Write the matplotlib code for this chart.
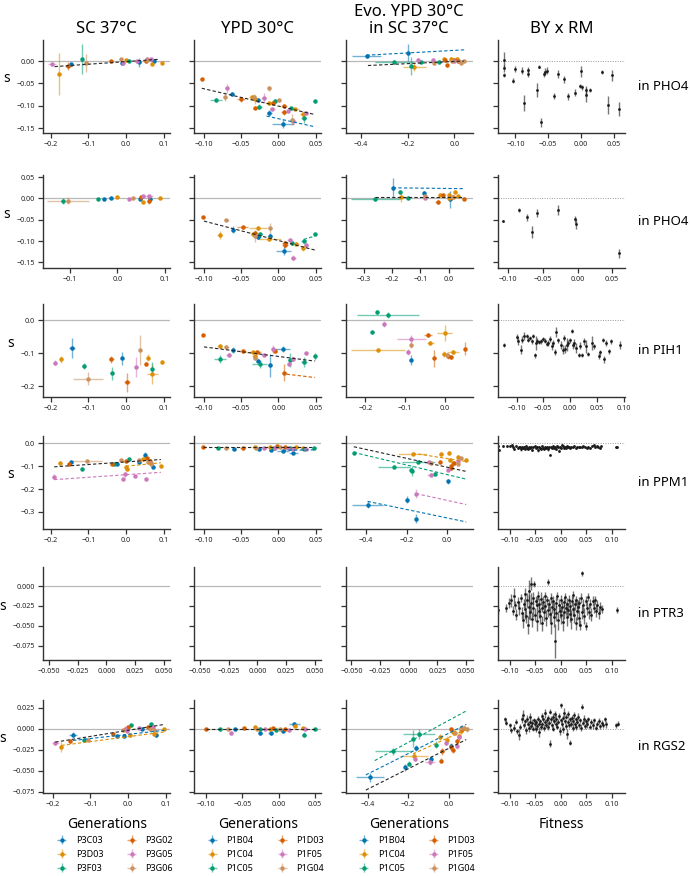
import matplotlib
matplotlib.use('Agg')
import matplotlib.pyplot as plt
from matplotlib.ticker import MultipleLocator
from matplotlib.colors import to_rgba
import numpy as np

plt.rcParams['font.family'] = ['Noto Sans', 'DejaVu Sans']

PAL = ['#0173B2', '#DE8F05', '#029E73', '#D55E00', '#CC78BC', '#CA9161']

col_titles = ['SC 37°C', 'YPD 30°C', 'Evo. YPD 30°C\nin SC 37°C', 'BY x RM']
row_genes = ['PHO4', 'PHO4', 'PIH1', 'PPM1', 'PTR3', 'RGS2']
strains_sc = ['P3C03', 'P3D03', 'P3F03', 'P3G02', 'P3G05', 'P3G06']
strains_ypd = ['P1B04', 'P1C04', 'P1C05', 'P1D03', 'P1F05', 'P1G04']
xlabels = ['Generations', 'Generations', 'Generations', 'Fitness']

# ---- strain panels: (strain index, x, y, xerr, yerr) ----
sc_pho4_a = [(4,-0.197,-0.0075,0.010,0.004),(1,-0.177,-0.029,0.004,0.046),(3,-0.153,-0.011,0.010,0.008),
             (0,-0.146,-0.0075,0.006,0.004),(2,-0.117,0.005,0.003,0.033),(5,-0.106,-0.004,0.008,0.020),
             (3,-0.041,0.000,0.004,0.002),(5,-0.014,0.004,0.003,0.002),(0,-0.011,-0.004,0.003,0.003),
             (4,-0.007,-0.005,0.004,0.003),(1,0.000,0.002,0.003,0.002),(2,0.008,0.000,0.003,0.002),
             (4,0.029,0.000,0.006,0.002),(0,0.036,-0.003,0.003,0.010),(3,0.053,-0.001,0.004,0.003),
             (4,0.055,0.004,0.004,0.002),(5,0.057,0.002,0.003,0.002),(4,0.066,0.004,0.008,0.003),
             (1,0.069,-0.006,0.003,0.003),(0,0.075,-0.001,0.003,0.003),(1,0.096,-0.005,0.003,0.002)]
ypd_pho4_a = [(3,-0.103,-0.041,0.002,0.002),(4,-0.069,-0.061,0.003,0.010),(0,-0.063,-0.074,0.003,0.005),
              (5,-0.072,-0.080,0.003,0.010),(2,-0.084,-0.087,0.008,0.005),(3,-0.050,-0.086,0.005,0.006),
              (1,-0.035,-0.081,0.004,0.004),(1,-0.032,-0.086,0.003,0.010),(5,-0.033,-0.080,0.003,0.006),
              (3,-0.031,-0.104,0.003,0.003),(2,-0.026,-0.102,0.004,0.006),(0,-0.028,-0.087,0.003,0.004),
              (4,-0.020,-0.082,0.003,0.010),(5,-0.012,-0.061,0.002,0.005),(1,-0.012,-0.095,0.006,0.004),
              (0,-0.012,-0.116,0.003,0.006),(4,-0.008,-0.108,0.003,0.004),(2,-0.005,-0.089,0.003,0.004),
              (3,-0.007,-0.093,0.003,0.004),(5,0.001,-0.087,0.003,0.004),(3,0.008,-0.101,0.004,0.005),
              (3,0.008,-0.115,0.004,0.006),(0,0.006,-0.140,0.015,0.010),(2,0.017,-0.106,0.003,0.004),
              (4,0.013,-0.111,0.003,0.004),(1,0.022,-0.107,0.005,0.003),(4,0.019,-0.134,0.004,0.006),
              (5,0.018,-0.131,0.003,0.012),(2,0.034,-0.128,0.003,0.010),(1,0.033,-0.119,0.004,0.008),
              (4,0.037,-0.117,0.003,0.004),(2,0.049,-0.090,0.002,0.003)]
evo_pho4_a = [(0,-0.376,0.011,0.064,0.004),(0,-0.200,0.019,0.004,0.020),(2,-0.258,-0.0015,0.080,0.003),
              (2,-0.186,-0.011,0.005,0.020),(1,-0.172,-0.013,0.050,0.010),(4,-0.155,0.002,0.005,0.004),
              (2,-0.142,-0.002,0.004,0.003),(2,-0.068,-0.0015,0.004,0.003),(4,-0.092,0.0015,0.005,0.003),
              (5,-0.088,-0.005,0.004,0.003),(3,-0.031,-0.010,0.003,0.003),(1,-0.045,0.005,0.004,0.004),
              (3,-0.040,0.002,0.004,0.003),(1,-0.014,0.005,0.003,0.003),(3,0.000,0.002,0.004,0.004),
              (4,0.000,-0.001,0.004,0.003),(1,0.011,0.005,0.004,0.004),(5,0.021,0.001,0.004,0.003),
              (5,0.040,0.000,0.003,0.002),(5,-0.010,0.000,0.003,0.003),(3,0.014,-0.001,0.004,0.003),
              (5,0.030,-0.004,0.003,0.003)]
sc_pho4_b = [(2,-0.116,-0.006,0.003,0.006),(5,-0.105,-0.005,0.045,0.008),(2,-0.041,-0.001,0.003,0.002),
             (0,-0.029,-0.001,0.003,0.002),(0,-0.014,0.002,0.003,0.002),(1,0.000,0.003,0.003,0.002),
             (4,0.025,-0.002,0.003,0.002),(5,0.032,0.001,0.003,0.002),(3,0.049,0.004,0.003,0.003),
             (4,0.055,0.005,0.004,0.003),(4,0.066,0.005,0.010,0.003),(0,0.070,-0.001,0.003,0.003),
             (1,0.055,-0.008,0.003,0.003),(3,0.066,-0.005,0.003,0.008),(1,0.091,0.002,0.003,0.002),
             (0,0.048,-0.001,0.003,0.002)]
ypd_pho4_b = [(3,-0.101,-0.043,0.002,0.002),(5,-0.070,-0.051,0.003,0.003),(1,-0.079,-0.086,0.003,0.010),
              (0,-0.061,-0.073,0.003,0.008),(3,-0.048,-0.068,0.007,0.004),(1,-0.028,-0.069,0.012,0.004),
              (1,-0.034,-0.084,0.003,0.004),(3,-0.031,-0.080,0.003,0.004),(5,-0.031,-0.088,0.003,0.015),
              (0,-0.027,-0.090,0.003,0.005),(2,-0.025,-0.083,0.003,0.004),(1,-0.012,-0.096,0.015,0.004),
              (0,-0.011,-0.087,0.003,0.005),(5,-0.011,-0.069,0.003,0.012),(3,0.009,-0.105,0.004,0.005),
              (3,0.009,-0.110,0.004,0.005),(0,0.007,-0.122,0.010,0.010),(4,0.015,-0.098,0.003,0.004),
              (2,0.018,-0.104,0.003,0.004),(1,0.023,-0.106,0.005,0.003),(4,0.020,-0.139,0.003,0.006),
              (2,0.034,-0.100,0.003,0.005),(1,0.033,-0.117,0.003,0.006),(4,0.037,-0.108,0.003,0.004),
              (2,0.049,-0.083,0.002,0.003)]
evo_pho4_b = [(2,-0.258,-0.002,0.085,0.003),(0,-0.197,0.025,0.004,0.023),(2,-0.170,0.016,0.003,0.003),
              (1,-0.168,0.003,0.010,0.012),(2,-0.144,0.002,0.004,0.003),(0,-0.088,0.012,0.003,0.006),
              (4,-0.085,0.002,0.003,0.003),(5,-0.083,0.005,0.003,0.003),(3,-0.039,-0.008,0.010,0.004),
              (1,-0.030,0.009,0.006,0.004),(3,-0.021,0.008,0.004,0.004),(1,0.002,0.009,0.004,0.005),
              (1,0.000,0.000,0.004,0.006),(0,0.006,-0.002,0.004,0.020),(5,0.011,0.003,0.004,0.003),
              (1,0.023,0.016,0.006,0.004),(3,0.053,-0.001,0.004,0.003),(1,0.032,0.005,0.004,0.003),
              (3,0.014,0.003,0.004,0.003)]
sc_pih1 = [(4,-0.189,-0.128,0.006,0.008),(1,-0.172,-0.118,0.004,0.010),(0,-0.144,-0.083,0.008,0.030),
           (2,-0.113,-0.138,0.004,0.008),(5,-0.102,-0.176,0.040,0.020),(3,-0.039,-0.118,0.006,0.010),
           (2,-0.036,-0.160,0.003,0.020),(0,-0.010,-0.115,0.003,0.020),(3,0.003,-0.188,0.008,0.030),
           (4,0.028,-0.140,0.003,0.030),(5,0.037,-0.090,0.003,0.045),(3,0.052,-0.133,0.004,0.006),
           (1,0.059,-0.113,0.003,0.010),(2,0.070,-0.146,0.003,0.020),(1,0.070,-0.163,0.015,0.030),
           (1,0.096,-0.125,0.003,0.006)]
ypd_pih1 = [(3,-0.101,-0.043,0.002,0.003),(2,-0.079,-0.118,0.008,0.012),(1,-0.079,-0.076,0.003,0.006),
            (5,-0.070,-0.081,0.003,0.006),(4,-0.067,-0.105,0.003,0.005),(0,-0.061,-0.090,0.003,0.010),
            (3,-0.048,-0.093,0.005,0.006),(3,-0.029,-0.096,0.004,0.006),(1,-0.032,-0.108,0.003,0.006),
            (5,-0.031,-0.115,0.003,0.006),(0,-0.027,-0.123,0.003,0.006),(2,-0.025,-0.133,0.010,0.010),
            (1,-0.034,-0.096,0.010,0.005),(4,-0.020,-0.105,0.003,0.005),(0,-0.011,-0.136,0.003,0.035),
            (4,-0.007,-0.086,0.003,0.012),(3,-0.005,-0.093,0.003,0.005),(0,0.006,-0.086,0.010,0.010),
            (3,0.008,-0.158,0.003,0.025),(4,0.014,-0.131,0.003,0.008),(2,0.016,-0.120,0.003,0.020),
            (4,0.019,-0.116,0.003,0.006),(2,0.034,-0.126,0.004,0.015),(4,0.037,-0.100,0.003,0.005),
            (2,0.049,-0.109,0.002,0.010)]
evo_pih1 = [(2,-0.170,0.026,0.004,0.006),(2,-0.143,0.017,0.078,0.010),(4,-0.154,-0.011,0.004,0.008),
            (2,-0.183,-0.036,0.004,0.005),(4,-0.084,-0.055,0.036,0.012),(3,-0.041,-0.044,0.010,0.005),
            (1,0.000,-0.038,0.018,0.025),(1,-0.036,-0.068,0.008,0.005),(5,-0.084,-0.074,0.004,0.010),
            (1,-0.168,-0.090,0.068,0.006),(4,-0.093,-0.096,0.004,0.010),(0,-0.086,-0.121,0.004,0.015),
            (3,-0.026,-0.115,0.004,0.025),(1,-0.002,-0.102,0.005,0.008),(3,0.008,-0.108,0.004,0.008),
            (5,0.005,-0.104,0.004,0.006),(3,0.015,-0.112,0.004,0.006),(1,0.021,-0.095,0.015,0.006),
            (3,0.052,-0.085,0.003,0.020)]
sc_ppm1 = [(1,-0.176,-0.086,0.004,0.006),(3,-0.152,-0.090,0.006,0.006),(0,-0.145,-0.081,0.005,0.008),
           (5,-0.104,-0.076,0.040,0.006),(2,-0.116,-0.111,0.004,0.006),(3,-0.036,-0.089,0.004,0.005),
           (2,-0.031,-0.090,0.004,0.005),(0,-0.023,-0.090,0.004,0.005),(5,-0.014,-0.074,0.004,0.005),
           (2,0.007,-0.069,0.004,0.005),(3,0.001,-0.079,0.004,0.006),(1,0.001,-0.103,0.004,0.006),
           (1,0.003,-0.114,0.004,0.006),(5,0.034,-0.071,0.004,0.005),(0,0.036,-0.081,0.004,0.005),
           (0,0.051,-0.050,0.003,0.012),(1,0.045,-0.069,0.006,0.005),(5,0.058,-0.081,0.004,0.005),
           (3,0.055,-0.066,0.003,0.005),(4,0.067,-0.086,0.004,0.005),(0,0.073,-0.103,0.004,0.006),
           (1,0.093,-0.100,0.003,0.005),(1,0.063,-0.078,0.006,0.005),(5,0.066,-0.090,0.004,0.005),
           (4,-0.191,-0.146,0.006,0.010),(4,-0.008,-0.154,0.006,0.006),(4,-0.003,-0.136,0.003,0.010),
           (4,0.024,-0.143,0.003,0.006),(4,0.054,-0.157,0.003,0.005)]
ypd_ppm1 = [(3,-0.101,-0.017,0.002,0.002),(2,-0.081,-0.021,0.003,0.002),(5,-0.070,-0.019,0.003,0.002),
            (0,-0.060,-0.026,0.003,0.003),(3,-0.048,-0.020,0.003,0.002),(1,-0.032,-0.016,0.003,0.002),
            (5,-0.030,-0.019,0.003,0.002),(0,-0.026,-0.024,0.003,0.003),(4,-0.019,-0.019,0.003,0.002),
            (1,-0.011,-0.016,0.003,0.002),(0,-0.010,-0.029,0.003,0.003),(2,-0.006,-0.020,0.003,0.002),
            (4,-0.004,-0.019,0.003,0.002),(3,-0.002,-0.013,0.003,0.003),(5,0.002,-0.016,0.003,0.002),
            (0,0.006,-0.034,0.008,0.003),(3,0.009,-0.014,0.003,0.002),(4,0.013,-0.021,0.003,0.002),
            (2,0.016,-0.019,0.003,0.002),(0,0.020,-0.043,0.006,0.003),(1,0.023,-0.018,0.005,0.002),
            (4,0.019,-0.024,0.003,0.002),(2,0.034,-0.023,0.003,0.002),(1,0.033,-0.019,0.003,0.002),
            (4,0.037,-0.024,0.003,0.002),(2,0.048,-0.021,0.002,0.002)]
evo_ppm1 = [(2,-0.461,-0.041,0.004,0.006),(2,-0.263,-0.103,0.080,0.006),(2,-0.178,-0.116,0.004,0.008),
            (2,-0.171,-0.121,0.004,0.020),(2,-0.142,-0.080,0.080,0.006),(5,-0.082,-0.087,0.004,0.006),
            (4,-0.082,-0.137,0.015,0.006),(2,-0.059,-0.133,0.004,0.006),(1,-0.170,-0.046,0.070,0.006),
            (1,-0.030,-0.046,0.008,0.010),(3,-0.033,-0.080,0.004,0.006),(1,0.007,-0.043,0.004,0.010),
            (1,0.012,-0.072,0.006,0.006),(5,0.053,-0.090,0.004,0.006),(1,0.094,-0.072,0.004,0.006),
            (4,0.053,-0.077,0.004,0.006),(3,0.036,-0.086,0.004,0.006),(4,-0.087,-0.083,0.004,0.006),
            (3,0.017,-0.100,0.004,0.006),(1,0.028,-0.087,0.004,0.006),(4,0.003,-0.116,0.004,0.006),
            (0,0.006,-0.167,0.004,0.012),(0,-0.392,-0.268,0.078,0.015),(0,-0.199,-0.246,0.004,0.015),
            (4,-0.153,-0.220,0.004,0.020),(0,-0.153,-0.330,0.004,0.020),(1,0.053,-0.058,0.004,0.006),
            (3,0.020,-0.110,0.004,0.006),(5,0.070,-0.065,0.004,0.006)]
sc_rgs2 = [(4,-0.193,-0.017,0.010,0.002),(1,-0.177,-0.022,0.004,0.006),(3,-0.153,-0.015,0.005,0.002),
           (0,-0.146,-0.007,0.010,0.003),(2,-0.117,-0.013,0.005,0.002),(5,-0.106,-0.013,0.005,0.002),
           (3,-0.041,-0.006,0.004,0.002),(0,-0.029,-0.009,0.004,0.002),(0,-0.011,-0.009,0.004,0.002),
           (4,-0.007,0.000,0.004,0.003),(5,-0.014,-0.002,0.004,0.002),(3,0.000,0.002,0.004,0.002),
           (2,0.008,0.004,0.004,0.002),(1,0.004,-0.008,0.004,0.002),(4,-0.003,-0.003,0.004,0.002),
           (4,0.029,0.001,0.004,0.002),(0,0.036,0.000,0.004,0.002),(3,0.053,0.002,0.004,0.002),
           (2,0.060,0.005,0.004,0.002),(5,0.057,0.000,0.004,0.002),(1,0.069,-0.006,0.004,0.002),
           (0,0.075,-0.008,0.004,0.002),(5,0.069,-0.002,0.004,0.002),(4,0.066,0.002,0.004,0.002),
           (1,0.096,-0.001,0.003,0.002)]
ypd_rgs2 = [(3,-0.101,0.000,0.002,0.001),(2,-0.081,-0.001,0.003,0.001),(5,-0.070,0.000,0.003,0.001),
            (4,-0.066,-0.005,0.003,0.002),(0,-0.060,-0.001,0.003,0.001),(3,-0.048,0.001,0.003,0.001),
            (1,-0.033,0.002,0.003,0.001),(5,-0.030,0.000,0.003,0.001),(0,-0.026,-0.005,0.003,0.002),
            (2,-0.025,0.000,0.003,0.001),(4,-0.019,0.000,0.003,0.001),(1,-0.012,-0.001,0.003,0.001),
            (0,-0.011,-0.005,0.003,0.002),(3,-0.007,0.001,0.003,0.001),(2,-0.004,-0.002,0.003,0.001),
            (5,0.002,-0.001,0.003,0.001),(3,0.009,0.000,0.003,0.001),(0,0.006,-0.003,0.003,0.001),
            (4,0.014,-0.002,0.003,0.001),(1,0.023,0.003,0.003,0.001),(0,0.022,0.005,0.008,0.003),
            (2,0.035,-0.007,0.003,0.003),(1,0.034,0.001,0.003,0.001),(4,0.037,-0.001,0.003,0.001),
            (2,0.050,-0.001,0.002,0.001)]
evo_rgs2 = [(2,-0.273,-0.027,0.090,0.004),(2,-0.177,-0.012,0.006,0.010),(2,-0.148,-0.006,0.080,0.006),
            (0,-0.161,-0.023,0.006,0.004),(1,-0.172,-0.032,0.070,0.004),(2,-0.061,-0.019,0.006,0.004),
            (3,0.012,-0.001,0.006,0.003),(5,0.060,0.001,0.006,0.003),(5,0.093,-0.001,0.006,0.003),
            (1,-0.007,-0.013,0.006,0.004),(1,0.023,-0.004,0.006,0.004),(1,0.054,-0.009,0.006,0.004),
            (3,0.013,-0.022,0.006,0.004),(3,-0.030,-0.027,0.006,0.004),(4,-0.010,-0.017,0.006,0.003),
            (4,0.043,-0.021,0.006,0.003),(3,0.020,-0.026,0.006,0.003),(0,0.010,-0.021,0.004,0.004),
            (4,-0.092,-0.040,0.025,0.003),(3,-0.038,-0.038,0.006,0.003),(4,-0.165,-0.036,0.006,0.003),
            (0,-0.089,-0.036,0.006,0.004),(0,-0.216,-0.046,0.006,0.004),(0,-0.390,-0.058,0.070,0.005),
            (2,-0.198,-0.042,0.006,0.003),(1,-0.040,-0.010,0.006,0.004),(5,0.030,-0.005,0.006,0.003),
            (5,0.075,0.001,0.006,0.003),(1,0.060,-0.003,0.006,0.003),(3,0.040,-0.015,0.006,0.003),
            (4,0.050,-0.010,0.006,0.003),(3,0.065,0.000,0.006,0.003)]
empty_panel = []

# ---- regression lines: (strain index or -1 for all, x start, x end, slope, intercept) ----
fit_sc_pho4_a = [(-1,-0.190,0.090,0.059,-0.0013)]
fit_ypd_pho4_a = [(-1,-0.103,0.047,-0.387,-0.1008),(0,-0.016,0.049,-0.369,-0.129)]
fit_evo_pho4_a = [(0,-0.376,0.043,0.0286,0.0238),(-1,-0.370,0.040,0.0244,-0.001)]
fit_ypd_pho4_b = [(-1,-0.100,0.049,-0.456,-0.0986),(2,0.034,0.049,0.53,-0.114)]
fit_evo_pho4_b = [(0,-0.197,0.053,-0.008,0.0234),(-1,-0.258,0.053,0.0,0.004)]
fit_ypd_pih1 = [(-1,-0.100,0.049,-0.289,-0.109),(3,0.011,0.049,-0.263,-0.160)]
fit_sc_ppm1 = [(-1,-0.191,0.093,0.113,-0.0814),(4,-0.191,0.093,0.113,-0.1374),(1,0.000,0.093,0.16,-0.100)]
fit_ypd_ppm1 = [(-1,-0.101,0.048,0.0,-0.018),(0,0.006,0.048,0.05,-0.031)]
fit_evo_ppm1 = [(-1,-0.460,0.094,-0.195,-0.1047),(2,-0.460,0.094,-0.211,-0.137),(1,-0.170,0.094,-0.140,-0.0668),
                (4,-0.153,0.094,-0.194,-0.2497),(0,-0.392,0.094,-0.185,-0.3266)]
fit_sc_rgs2 = [(-1,-0.193,0.096,0.0727,-0.002),(1,-0.177,0.096,0.0586,-0.0096),(0,-0.146,0.096,0.0496,-0.0068)]
fit_ypd_rgs2 = [(-1,-0.101,0.050,0.0,-0.001)]
fit_evo_rgs2 = [(2,-0.366,0.088,0.130,0.0096),(0,-0.410,0.088,0.1205,-0.0056),(1,-0.176,0.088,0.110,-0.0107),
                (-1,-0.410,0.088,0.1205,-0.0236)]

# ---- BY x RM panels: (fitness, s, s error) ----
byrm_pho4_a = [(-0.118,-0.031,0.004),(-0.118,-0.016,0.008),(-0.117,0.002,0.018),(-0.103,-0.044,0.005),
               (-0.100,-0.018,0.006),(-0.090,-0.022,0.008),(-0.087,-0.093,0.018),(-0.081,-0.020,0.006),
               (-0.081,-0.028,0.008),(-0.067,-0.065,0.015),(-0.064,-0.013,0.003),(-0.061,-0.137,0.010),
               (-0.057,-0.029,0.006),(-0.055,-0.024,0.008),(-0.052,-0.022,0.008),(-0.042,-0.078,0.006),
               (-0.036,-0.029,0.010),(-0.026,-0.041,0.008),(-0.020,-0.079,0.008),(-0.009,-0.071,0.008),
               (-0.001,-0.023,0.012),(-0.002,-0.056,0.004),(0.001,-0.059,0.006),(0.007,-0.076,0.015),
               (0.008,-0.065,0.010),(0.013,-0.065,0.005),(0.031,-0.025,0.005),(0.041,-0.099,0.020),
               (0.047,-0.032,0.012),(0.058,-0.107,0.015)]
byrm_pho4_b = [(-0.107,-0.053,0.003),(-0.085,-0.027,0.005),(-0.073,-0.044,0.008),(-0.066,-0.078,0.014),
               (-0.058,-0.034,0.010),(-0.028,-0.027,0.012),(-0.003,-0.049,0.008),(-0.002,-0.059,0.012),
               (0.060,-0.129,0.010)]
byrm_pih1 = [(-0.123,-0.073,0.006),(-0.100,-0.050,0.010),(-0.097,-0.063,0.012),(-0.092,-0.088,0.015),
             (-0.089,-0.058,0.010),(-0.086,-0.048,0.012),(-0.081,-0.048,0.006),(-0.078,-0.058,0.008),
             (-0.075,-0.053,0.006),(-0.072,-0.063,0.008),(-0.069,-0.048,0.006),(-0.066,-0.106,0.008),
             (-0.064,-0.068,0.020),(-0.061,-0.061,0.008),(-0.058,-0.066,0.006),(-0.055,-0.063,0.008),
             (-0.051,-0.057,0.006),(-0.047,-0.061,0.008),(-0.044,-0.070,0.006),(-0.042,-0.068,0.010),
             (-0.037,-0.056,0.008),(-0.034,-0.078,0.012),(-0.031,-0.068,0.010),(-0.028,-0.096,0.010),
             (-0.026,-0.036,0.015),(-0.022,-0.060,0.008),(-0.017,-0.073,0.012),(-0.014,-0.088,0.015),
             (-0.012,-0.053,0.010),(-0.009,-0.086,0.012),(-0.006,-0.073,0.020),(-0.003,-0.068,0.010),
             (0.000,-0.060,0.008),(0.003,-0.033,0.006),(0.006,-0.075,0.010),(0.008,-0.068,0.012),
             (0.011,-0.083,0.015),(0.016,-0.106,0.006),(0.018,-0.076,0.010),(0.023,-0.106,0.006),
             (0.025,-0.063,0.010),(0.029,-0.078,0.020),(0.034,-0.103,0.006),(0.041,-0.068,0.020),
             (0.044,-0.078,0.008),(0.053,-0.108,0.010),(0.056,-0.096,0.008),(0.061,-0.060,0.006),
             (0.063,-0.118,0.010),(0.067,-0.068,0.008),(0.072,-0.093,0.008),(0.077,-0.063,0.008),
             (0.094,-0.073,0.012)]
byrm_ppm1 = [(-0.122,-0.010,0.003),(-0.121,-0.029,0.004),(-0.113,-0.012,0.003),(-0.105,-0.011,0.003),
             (-0.099,-0.013,0.004),(-0.095,-0.006,0.004),(-0.093,-0.016,0.005),(-0.091,-0.024,0.005),
             (-0.087,-0.012,0.003),(-0.084,-0.021,0.004),(-0.081,-0.015,0.004),(-0.079,-0.018,0.004),
             (-0.077,-0.026,0.006),(-0.075,-0.014,0.003),(-0.073,-0.020,0.005),(-0.071,-0.017,0.004),
             (-0.069,-0.023,0.004),(-0.067,-0.011,0.003),(-0.065,-0.019,0.004),(-0.063,-0.025,0.005),
             (-0.061,-0.016,0.004),(-0.059,-0.021,0.003),(-0.057,-0.014,0.004),(-0.055,-0.028,0.006),
             (-0.053,-0.018,0.004),(-0.051,-0.013,0.003),(-0.049,-0.022,0.004),(-0.047,-0.017,0.004),
             (-0.045,-0.031,0.005),(-0.043,-0.015,0.003),(-0.041,-0.020,0.004),(-0.039,-0.026,0.005),
             (-0.037,-0.012,0.003),(-0.035,-0.019,0.004),(-0.033,-0.023,0.004),(-0.031,-0.016,0.004),
             (-0.029,-0.021,0.005),(-0.027,-0.014,0.003),(-0.025,-0.027,0.006),(-0.023,-0.018,0.004),
             (-0.021,-0.049,0.004),(-0.019,-0.015,0.004),(-0.017,-0.022,0.005),(-0.015,-0.013,0.003),
             (-0.013,-0.020,0.004),(-0.011,-0.017,0.004),(-0.009,-0.024,0.005),(-0.007,-0.011,0.003),
             (-0.005,-0.018,0.004),(-0.003,-0.033,0.006),(-0.001,-0.015,0.004),(0.001,-0.020,0.004),
             (0.003,-0.008,0.005),(0.005,-0.013,0.004),(0.007,-0.019,0.004),(0.009,-0.016,0.003),
             (0.011,-0.022,0.004),(0.013,-0.012,0.003),(0.015,-0.018,0.004),(0.017,-0.015,0.004),
             (0.019,-0.021,0.005),(0.021,-0.014,0.003),(0.024,-0.017,0.004),(0.027,-0.013,0.003),
             (0.030,-0.019,0.004),(0.033,-0.015,0.004),(0.036,-0.017,0.004),(0.039,-0.014,0.003),
             (0.042,-0.018,0.004),(0.045,-0.013,0.003),(0.048,-0.016,0.004),(0.051,-0.019,0.004),
             (0.054,-0.015,0.003),(0.057,-0.020,0.004),(0.061,-0.012,0.003),(0.065,-0.009,0.003),
             (0.068,-0.015,0.004),(0.071,-0.011,0.003),(0.074,-0.017,0.004),(0.077,-0.022,0.004),
             (0.080,-0.013,0.003),(0.108,-0.014,0.003),(0.111,-0.017,0.003)]
byrm_ptr3 = [(-0.124,-0.017,0.004),(-0.123,-0.030,0.005),(-0.106,-0.027,0.005),(-0.102,-0.021,0.006),
             (-0.097,-0.018,0.008),(-0.094,-0.031,0.006),(-0.091,-0.012,0.010),(-0.089,-0.024,0.005),
             (-0.087,-0.036,0.007),(-0.084,-0.020,0.006),(-0.081,-0.028,0.009),(-0.078,-0.015,0.005),
             (-0.076,-0.034,0.008),(-0.074,-0.043,0.010),(-0.072,-0.022,0.006),(-0.070,-0.010,0.007),
             (-0.069,-0.029,0.012),(-0.067,-0.038,0.008),(-0.065,-0.018,0.009),(-0.064,-0.049,0.011),
             (-0.062,-0.026,0.015),(-0.061,-0.006,0.014),(-0.060,-0.033,0.010),(-0.058,0.003,0.008),
             (-0.057,-0.021,0.012),(-0.056,-0.042,0.009),(-0.054,-0.015,0.007),(-0.053,-0.028,0.011),
             (-0.052,0.003,0.004),(-0.050,-0.036,0.008),(-0.049,-0.019,0.006),(-0.047,-0.024,0.010),
             (-0.046,-0.044,0.012),(-0.045,-0.012,0.006),(-0.043,-0.031,0.009),(-0.042,-0.022,0.007),
             (-0.040,-0.038,0.010),(-0.039,-0.016,0.008),(-0.037,-0.027,0.006),(-0.036,-0.047,0.009),
             (-0.034,-0.020,0.007),(-0.033,-0.033,0.011),(-0.031,-0.013,0.005),(-0.030,-0.025,0.008),
             (-0.028,-0.040,0.010),(-0.027,-0.018,0.006),(-0.025,-0.030,0.009),(-0.024,0.005,0.004),
             (-0.022,-0.023,0.007),(-0.021,-0.035,0.010),(-0.019,-0.015,0.006),(-0.018,-0.046,0.014),
             (-0.016,-0.026,0.008),(-0.015,-0.019,0.006),(-0.013,-0.039,0.012),(-0.012,-0.029,0.009),
             (-0.010,-0.069,0.021),(-0.009,-0.021,0.007),(-0.008,-0.034,0.010),(-0.006,-0.012,0.005),
             (-0.005,-0.043,0.012),(-0.003,-0.024,0.008),(-0.002,-0.031,0.009),(0.000,-0.017,0.006),
             (0.001,-0.037,0.011),(0.003,-0.026,0.007),(0.004,-0.045,0.012),(0.006,-0.020,0.006),
             (0.007,-0.032,0.010),(0.009,-0.014,0.005),(0.010,-0.028,0.008),(0.012,-0.039,0.011),
             (0.013,-0.022,0.007),(0.015,-0.030,0.009),(0.016,-0.017,0.006),(0.018,-0.035,0.010),
             (0.019,-0.025,0.008),(0.021,-0.042,0.012),(0.022,-0.019,0.006),(0.024,-0.029,0.009),
             (0.025,-0.011,0.005),(0.027,-0.036,0.010),(0.028,-0.023,0.007),(0.030,-0.047,0.008),
             (0.031,-0.018,0.006),(0.033,-0.031,0.012),(0.034,-0.026,0.008),(0.036,-0.040,0.010),
             (0.037,-0.021,0.007),(0.039,-0.049,0.006),(0.040,-0.015,0.006),(0.042,-0.033,0.009),
             (0.043,0.016,0.003),(0.045,-0.024,0.008),(0.047,-0.038,0.010),(0.049,-0.019,0.006),
             (0.050,-0.050,0.005),(0.052,-0.028,0.008),(0.054,-0.014,0.005),(0.056,-0.032,0.009),
             (0.058,-0.022,0.006),(0.060,-0.036,0.008),(0.063,-0.019,0.006),(0.066,-0.027,0.007),
             (0.068,-0.017,0.005),(0.070,-0.031,0.008),(0.072,-0.024,0.006),(0.075,-0.034,0.007),
             (0.078,-0.026,0.006),(0.081,-0.029,0.005),(0.111,-0.030,0.004)]
byrm_rgs2 = [(-0.109,0.011,0.003),(-0.107,0.007,0.003),(-0.100,0.004,0.003),(-0.097,-0.002,0.003),
             (-0.092,0.001,0.004),(-0.088,0.008,0.003),(-0.085,-0.003,0.003),(-0.082,-0.007,0.006),
             (-0.079,0.002,0.003),(-0.076,0.011,0.004),(-0.074,0.016,0.006),(-0.072,0.004,0.003),
             (-0.070,0.009,0.003),(-0.068,-0.002,0.004),(-0.066,0.012,0.004),(-0.064,0.006,0.003),
             (-0.062,0.001,0.005),(-0.060,0.008,0.003),(-0.059,0.014,0.004),(-0.057,0.003,0.003),
             (-0.055,0.007,0.004),(-0.054,0.000,0.003),(-0.052,0.010,0.003),(-0.051,0.005,0.005),
             (-0.049,-0.001,0.003),(-0.048,0.008,0.003),(-0.046,0.003,0.004),(-0.045,0.012,0.003),
             (-0.043,0.006,0.003),(-0.042,-0.004,0.006),(-0.040,0.009,0.003),(-0.039,0.002,0.004),
             (-0.037,0.015,0.004),(-0.036,0.005,0.003),(-0.034,0.011,0.003),(-0.033,0.001,0.004),
             (-0.031,0.008,0.003),(-0.030,0.018,0.005),(-0.028,0.004,0.003),(-0.027,0.010,0.004),
             (-0.025,0.013,0.003),(-0.024,0.002,0.004),(-0.022,0.007,0.003),(-0.021,0.020,0.003),
             (-0.020,-0.018,0.004),(-0.018,0.011,0.004),(-0.017,0.004,0.003),(-0.015,0.014,0.005),
             (-0.014,0.000,0.003),(-0.012,0.009,0.004),(-0.011,0.017,0.004),(-0.009,0.005,0.003),
             (-0.008,0.012,0.004),(-0.006,0.002,0.003),(-0.005,0.008,0.003),(-0.003,0.015,0.004),
             (-0.002,-0.003,0.005),(0.000,0.010,0.003),(0.001,0.028,0.003),(0.002,0.006,0.004),
             (0.004,0.013,0.003),(0.005,-0.001,0.004),(0.007,0.019,0.005),(0.008,0.009,0.003),
             (0.010,0.003,0.004),(0.011,0.014,0.003),(0.012,-0.006,0.006),(0.014,0.008,0.003),
             (0.015,0.017,0.004),(0.017,0.004,0.003),(0.018,0.011,0.003),(0.019,-0.017,0.003),
             (0.021,0.006,0.004),(0.022,0.013,0.003),(0.024,0.001,0.004),(0.025,0.009,0.003),
             (0.027,0.016,0.004),(0.028,0.005,0.003),(0.030,0.011,0.003),(0.031,0.002,0.004),
             (0.033,0.008,0.003),(0.034,0.014,0.004),(0.036,0.004,0.003),(0.038,0.010,0.003),
             (0.040,0.001,0.004),(0.042,0.026,0.003),(0.044,0.007,0.003),(0.046,0.012,0.004),
             (0.048,0.003,0.003),(0.050,0.009,0.003),(0.052,0.005,0.004),(0.054,0.011,0.003),
             (0.057,0.002,0.003),(0.060,0.008,0.003),(0.063,0.004,0.004),(0.066,0.010,0.003),
             (0.069,0.001,0.003),(0.072,0.006,0.003),(0.075,0.009,0.004),(0.078,0.003,0.003),
             (0.081,0.007,0.003),(0.084,0.004,0.003),(0.087,0.011,0.003),(0.090,0.005,0.004),
             (0.109,0.004,0.003),(0.112,0.006,0.003)]

# ---- axis ranges and tick steps ----
row_ylims = [(-0.161, 0.047), (-0.163, 0.055), (-0.232, 0.050), (-0.375, 0.032), (-0.093, 0.024), (-0.0765, 0.034)]
row_ysteps = [0.05, 0.05, 0.1, 0.1, 0.025, 0.025]
panel_xlims = [
    [(-0.220, 0.118), (-0.113, 0.0576), (-0.465, 0.078), (-0.126, 0.067)],
    [(-0.157, 0.112), (-0.113, 0.0576), (-0.363, 0.0845), (-0.1145, 0.069)],
    [(-0.220, 0.118), (-0.113, 0.0576), (-0.250, 0.071), (-0.134, 0.103)],
    [(-0.220, 0.118), (-0.113, 0.0576), (-0.500, 0.126), (-0.122, 0.127)],
    [(-0.055, 0.0558), (-0.055, 0.0558), (-0.055, 0.0558), (-0.122, 0.127)],
    [(-0.225, 0.112), (-0.1166, 0.0592), (-0.510, 0.120), (-0.122, 0.127)],
]
panel_xsteps = [
    [0.1, 0.05, 0.2, 0.05], [0.1, 0.05, 0.1, 0.05], [0.1, 0.05, 0.1, 0.05],
    [0.1, 0.05, 0.2, 0.05], [0.025, 0.025, 0.025, 0.05], [0.1, 0.05, 0.2, 0.05],
]

strain_panels = [
    [(sc_pho4_a, []), (ypd_pho4_a, fit_ypd_pho4_a), (evo_pho4_a, fit_evo_pho4_a)],
    [(sc_pho4_b, []), (ypd_pho4_b, fit_ypd_pho4_b), (evo_pho4_b, fit_evo_pho4_b)],
    [(sc_pih1, []), (ypd_pih1, fit_ypd_pih1), (evo_pih1, [])],
    [(sc_ppm1, fit_sc_ppm1), (ypd_ppm1, fit_ypd_ppm1), (evo_ppm1, fit_evo_ppm1)],
    [(empty_panel, []), (empty_panel, []), (empty_panel, [])],
    [(sc_rgs2, fit_sc_rgs2), (ypd_rgs2, fit_ypd_rgs2), (evo_rgs2, fit_evo_rgs2)],
]
strain_panels[0][0] = (sc_pho4_a, fit_sc_pho4_a)
byrm_panels = [byrm_pho4_a, byrm_pho4_b, byrm_pih1, byrm_ppm1, byrm_ptr3, byrm_rgs2]

# ---- figure ----
FW, FH = 690, 876
fig = plt.figure(figsize=(FW / 100, FH / 100), dpi=100)
col_left = [43.3, 194.3, 345.7, 498.3]
row_top = [40, 175, 304, 436, 567, 700]
AW, AH = 127, 93
axes = [[fig.add_axes([l / FW, 1 - (t + AH) / FH, AW / FW, AH / FH]) for l in col_left] for t in row_top]


def style(ax):
    for s in ['top', 'right']:
        ax.spines[s].set_visible(False)
    for s in ['left', 'bottom']:
        ax.spines[s].set_linewidth(1.0)
        ax.spines[s].set_color('0.2')
    ax.tick_params(labelsize=5.2, length=3.5, width=0.9, color='0.2', pad=2.5, labelcolor='0.15')


for r in range(6):
    for c in range(4):
        ax = axes[r][c]
        style(ax)
        if c < 3:
            ax.axhline(0, color='0.72', lw=0.9, zorder=0)
            pts, fits = strain_panels[r][c]
            names = strains_sc if c == 0 else strains_ypd
            for k in range(6):
                sel = [p for p in pts if p[0] == k]
                if not sel:
                    continue
                arr = np.array([p[1:] for p in sel])
                ax.errorbar(arr[:, 0], arr[:, 1], xerr=arr[:, 2], yerr=arr[:, 3], fmt='o',
                            color=PAL[k], ms=3.2, mew=0, elinewidth=1.0,
                            ecolor=to_rgba(PAL[k], 0.55), capsize=0, label=names[k], zorder=2)
            for k, x0, x1, b, a in fits:
                xs = np.array([x0, x1])
                col = '0.15' if k < 0 else PAL[k]
                ax.plot(xs, a + b * xs, ls=(0, (3, 2)), lw=0.8, color=col, zorder=3)
        else:
            ax.axhline(0, color='0.6', lw=0.7, ls=(0, (1, 1.5)), zorder=0)
            arr = np.array(byrm_panels[r])
            ax.errorbar(arr[:, 0], arr[:, 1], yerr=arr[:, 2], fmt='o', color='0.1', ms=2.0, mew=0,
                        elinewidth=1.0, ecolor=(0.1, 0.1, 0.1, 0.6), capsize=0, zorder=2)
        ax.set_xlim(*panel_xlims[r][c])
        ax.set_ylim(*row_ylims[r])
        ax.xaxis.set_major_locator(MultipleLocator(panel_xsteps[r][c]))
        ax.yaxis.set_major_locator(MultipleLocator(row_ysteps[r]))
        if c > 0:
            ax.tick_params(labelleft=False)
        else:
            ax.set_ylabel('s', rotation=0, fontsize=10, labelpad=7)
    axes[r][3].text(1.1, 0.5, 'in ' + row_genes[r], transform=axes[r][3].transAxes,
                    fontsize=9.5, va='center', ha='left')

for c in range(4):
    axes[0][c].set_title(col_titles[c], fontsize=12, pad=5, linespacing=1.1)
    axes[5][c].set_xlabel(xlabels[c], fontsize=10, labelpad=6)

leg_x = [56.7, 207.5, 359.0]
for c in range(3):
    h, l = axes[5][c].get_legend_handles_labels()
    axes[5][c].legend(h, l, ncol=2, loc='upper left', bbox_to_anchor=(leg_x[c] / FW, 1 - 836 / FH),
                      bbox_transform=fig.transFigure, frameon=False, fontsize=6.5,
                      handlelength=1.1, handletextpad=1.0, columnspacing=2.6, labelspacing=0.55,
                      borderpad=0, borderaxespad=0)

fig.savefig('out.png', dpi=100)
